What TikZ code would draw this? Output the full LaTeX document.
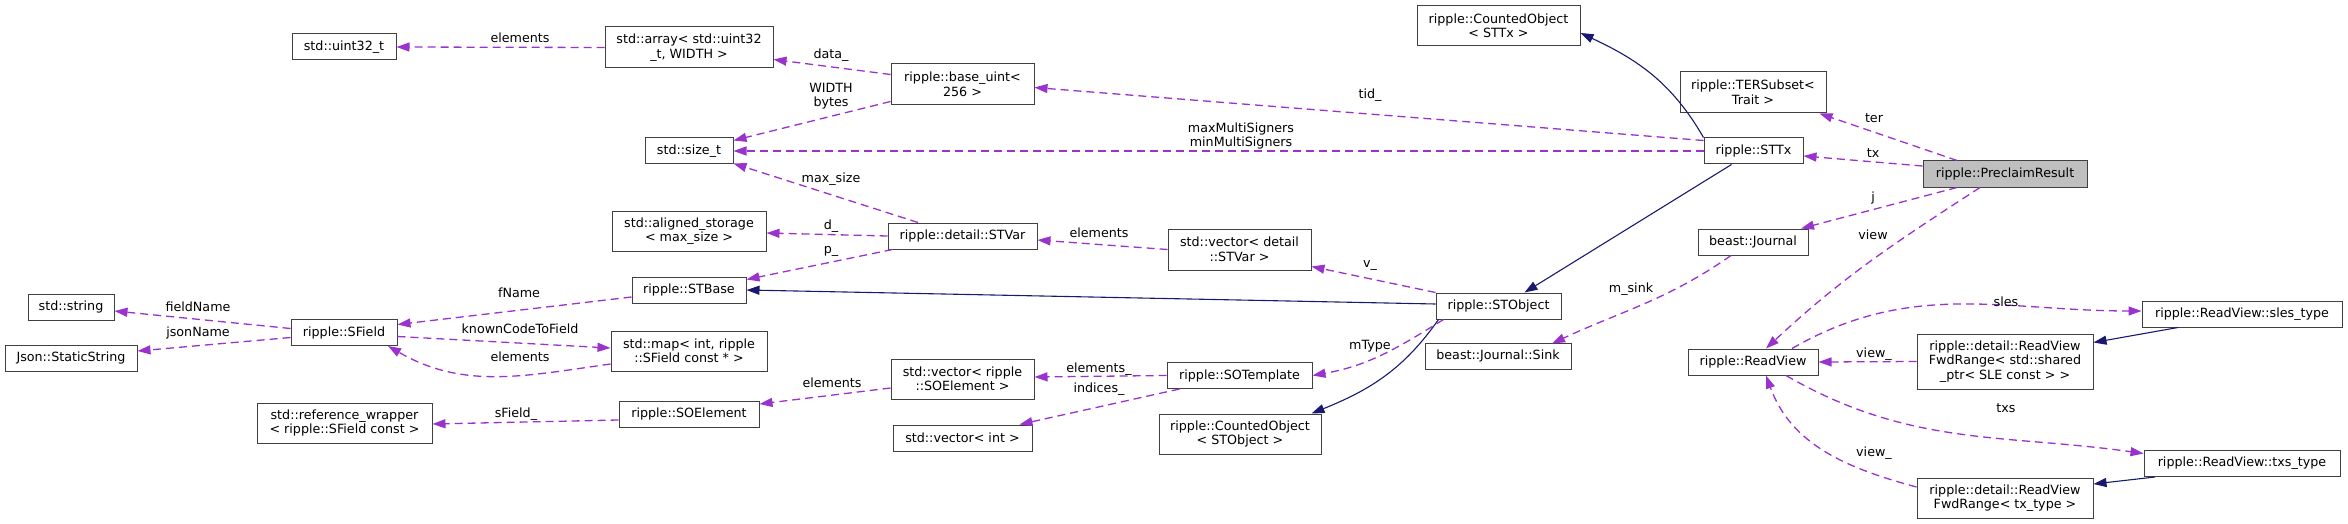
\documentclass[tikz,border=0pt]{standalone}
\usepackage{fontspec}
\setmainfont{DejaVu Sans}
\usepackage{tikz}
\usetikzlibrary{arrows.meta}
\definecolor{memberpurple}{HTML}{9A32CD}
\definecolor{basenavy}{HTML}{191970}
\definecolor{boxborder}{HTML}{404040}
\definecolor{focusgray}{HTML}{BFBFBF}
\tikzset{
  classbox/.style={draw=boxborder,fill=white,line width=1pt,inner sep=0pt,align=center,
    minimum height=26pt,font=\fontsize{12.7}{14.5}\selectfont},
  focusbox/.style={classbox,fill=focusgray},
  memberedge/.style={-{Triangle[length=13pt,width=9pt]},draw=memberpurple,
    line width=1.3pt,dash pattern=on 8pt off 5pt},
  baseedge/.style={-{Triangle[length=13pt,width=9pt]},draw=basenavy,line width=1.1pt},
  edgelabel/.style={font=\fontsize{12.7}{14.5}\selectfont,align=center,inner sep=0pt}
}
\begin{document}
\begin{tikzpicture}[x=1pt,y=1pt]
  \useasboundingbox (0,0) rectangle (2348,-524);
  % classes
  \node[classbox,minimum width=104pt] (uint) at (344,-47) {std::uint32\_t};
  \node[classbox,minimum width=168pt,minimum height=41pt] (array) at (689,-47.5) {std::array< std::uint32\\\_t, WIDTH >};
  \node[classbox,minimum width=88pt] (sizet) at (689,-151) {std::size\_t};
  \node[classbox,minimum width=154pt,minimum height=40pt] (aligned) at (689,-231) {std::aligned\_storage\\< max\_size >};
  \node[classbox,minimum width=114pt] (stbase) at (689,-290) {ripple::STBase};
  \node[classbox,minimum width=86pt] (string) at (71,-307) {std::string};
  \node[classbox,minimum width=106pt] (sfield) at (344,-332.5) {ripple::SField};
  \node[classbox,minimum width=132pt] (staticstr) at (71,-358) {Json::StaticString};
  \node[classbox,minimum width=156pt,minimum height=40pt] (map) at (689,-351) {std::map< int, ripple\\::SField const * >};
  \node[classbox,minimum width=140pt] (soelement) at (689,-414) {ripple::SOElement};
  \node[classbox,minimum width=175pt,minimum height=40pt] (refwrap) at (344.5,-423) {std::reference\_wrapper\\< ripple::SField const >};
  \node[classbox,minimum width=143pt,minimum height=41pt] (baseuint) at (962.5,-84.5) {ripple::base\_uint<\\256 >};
  \node[classbox,minimum width=149pt] (stvar) at (962.5,-236) {ripple::detail::STVar};
  \node[classbox,minimum width=143pt,minimum height=40pt] (vecsoe) at (962.5,-379) {std::vector< ripple\\::SOElement >};
  \node[classbox,minimum width=139pt] (vecint) at (962.5,-438) {std::vector< int >};
  \node[classbox,minimum width=143pt,minimum height=41pt] (vecstvar) at (1239.5,-249.5) {std::vector< detail\\::STVar >};
  \node[classbox,minimum width=145pt] (sotemplate) at (1239.5,-375.5) {ripple::SOTemplate};
  \node[classbox,minimum width=162pt,minimum height=40pt] (countedsto) at (1240,-434) {ripple::CountedObject\\< STObject >};
  \node[classbox,minimum width=163pt,minimum height=40pt] (countedstt) at (1498.5,-26) {ripple::CountedObject\\< STTx >};
  \node[classbox,minimum width=125pt] (stobject) at (1498.5,-306) {ripple::STObject};
  \node[classbox,minimum width=146pt] (sink) at (1498,-356) {beast::Journal::Sink};
  \node[classbox,minimum width=146pt,minimum height=41pt] (tersubset) at (1753,-92.5) {ripple::TERSubset<\\Trait >};
  \node[classbox,minimum width=99pt] (sttx) at (1753.5,-151) {ripple::STTx};
  \node[classbox,minimum width=110pt] (journal) at (1753,-242) {beast::Journal};
  \node[classbox,minimum width=130pt] (readview) at (1753,-362) {ripple::ReadView};
  \node[focusbox,minimum width=164pt] (preclaim) at (2005,-174) {ripple::PreclaimResult};
  \node[classbox,minimum width=176pt,minimum height=55pt] (fwdshared) at (2005,-361.5) {ripple::detail::ReadView\\FwdRange< std::shared\\\_ptr< SLE const > >};
  \node[classbox,minimum width=176pt,minimum height=40pt] (fwdtx) at (2005,-498) {ripple::detail::ReadView\\FwdRange< tx\_type >};
  \node[classbox,minimum width=200pt] (slestype) at (2242,-314) {ripple::ReadView::sles\_type};
  \node[classbox,minimum width=196pt] (txstype) at (2242,-463.5) {ripple::ReadView::txs\_type};
  % inheritance
  \draw[baseedge] (sttx.north west) to[out=120,in=-25] ([yshift=-7pt]countedstt.east);
  \draw[baseedge] ([xshift=-22pt]sttx.south) -- ([xshift=26pt]stobject.north);
  \draw[baseedge] ([yshift=2pt]stobject.west) -- (stbase.east);
  \draw[baseedge] ([xshift=-60pt]stobject.south) to[out=235,in=22] ([xshift=-10pt]countedsto.north east);
  \draw[baseedge] ([xshift=-64pt]slestype.south) -- ([yshift=19pt]fwdshared.east);
  \draw[baseedge] ([xshift=-87pt]txstype.south) -- ([yshift=14pt]fwdtx.east);
  % members
  \draw[memberedge] (array.west) -- (uint.east);
  \draw[memberedge] ([yshift=10pt]baseuint.west) -- ([yshift=-12pt]array.east);
  \draw[memberedge] ([yshift=-17pt]baseuint.west) -- ([yshift=-3pt]sizet.north east);
  \draw[memberedge] ([yshift=-3pt]sttx.north west) -- ([yshift=-3pt]baseuint.east);
  \draw[memberedge] (sttx.west) -- (sizet.east);
  \draw[memberedge] ([xshift=-44.5pt]stvar.north) -- ([yshift=1pt]sizet.south east);
  \draw[memberedge] (stvar.west) -- ([yshift=-2pt]aligned.east);
  \draw[memberedge] ([xshift=-70pt]stvar.south) -- ([yshift=-3pt]stbase.north east);
  \draw[memberedge] (vecstvar.west) -- ([yshift=-4pt]stvar.east);
  \draw[memberedge] (stobject.north west) -- ([yshift=4pt]vecstvar.south east);
  \draw[memberedge] ([yshift=-7pt]stbase.west) -- ([yshift=8pt]sfield.east);
  \draw[memberedge] ([yshift=4pt]sfield.west) -- ([yshift=-4pt]string.east);
  \draw[memberedge] ([yshift=-5pt]sfield.west) -- ([yshift=7pt]staticstr.east);
  \draw[memberedge] ([yshift=-4pt]sfield.east) -- ([yshift=3pt]map.west);
  \draw[memberedge] ([yshift=-13pt]map.west) to[out=188,in=-30] ([xshift=44pt]sfield.south);
  \draw[memberedge] ([yshift=-6pt]soelement.west) -- ([yshift=-1pt]refwrap.east);
  \draw[memberedge] ([yshift=-9pt]vecsoe.west) -- ([yshift=10pt]soelement.east);
  \draw[memberedge] (sotemplate.west) -- ([yshift=2pt]vecsoe.east);
  \draw[memberedge] ([xshift=-60pt]sotemplate.south) -- ([xshift=57pt]vecint.north);
  \draw[memberedge] ([xshift=-55pt]stobject.south) to[out=212,in=10] (sotemplate.east);
  \draw[memberedge] ([xshift=-48pt]preclaim.north) -- ([xshift=-7pt]tersubset.south east);
  \draw[memberedge] ([yshift=8pt]preclaim.west) -- ([yshift=-5pt]sttx.east);
  \draw[memberedge] ([xshift=-48pt]preclaim.south) -- ([xshift=48pt]journal.north);
  \draw[memberedge] ([xshift=-25pt]preclaim.south) to[out=213,in=43] ([xshift=13pt]readview.north);
  \draw[memberedge] ([xshift=-22pt]journal.south) to[out=215,in=25] ([xshift=54pt,yshift=-1pt]sink.north);
  \draw[memberedge] ([xshift=39pt]readview.north) to[out=30,in=180] ([yshift=3pt]slestype.west);
  \draw[memberedge] (fwdshared.west) -- (readview.east);
  \draw[memberedge] ([xshift=33pt]readview.south) to[out=-30,in=172] ([yshift=10pt]txstype.west);
  \draw[memberedge] ([yshift=11pt]fwdtx.west) to[out=165,in=-70] ([xshift=13pt]readview.south);
  % edge labels
  \node[edgelabel] (lbluint) at (520,-38) {elements};
  \node[edgelabel] (lbldata) at (831,-55) {data\_};
  \node[edgelabel] (lblwidth) at (831,-96) {WIDTH\\bytes};
  \node[edgelabel] (lbltid) at (1370,-95) {tid\_};
  \node[edgelabel] (lblsigners) at (1241,-136) {maxMultiSigners\\minMultiSigners};
  \node[edgelabel] (lblmaxsize) at (831,-179) {max\_size};
  \node[edgelabel] (lbld) at (831,-226) {d\_};
  \node[edgelabel] (lblp) at (831,-251) {p\_};
  \node[edgelabel] (lblstvar) at (1099,-233) {elements};
  \node[edgelabel] (lblv) at (1370,-266) {v\_};
  \node[edgelabel] (lblfname) at (519,-293) {fName};
  \node[edgelabel] (lblfieldname) at (198,-307) {fieldName};
  \node[edgelabel] (lbljsonname) at (198,-333) {jsonName};
  \node[edgelabel] (lblknown) at (520,-329) {knownCodeToField};
  \node[edgelabel] (lblmap) at (520,-357) {elements};
  \node[edgelabel] (lblsfield) at (516,-414) {sField\_};
  \node[edgelabel] (lblsoe) at (832,-383) {elements};
  \node[edgelabel] (lblelements) at (1099,-369) {elements\_};
  \node[edgelabel] (lblindices) at (1099,-389) {indices\_};
  \node[edgelabel] (lblmtype) at (1370,-346) {mType};
  \node[edgelabel] (lblter) at (1874,-118) {ter};
  \node[edgelabel] (lbltx) at (1873,-153) {tx};
  \node[edgelabel] (lblj) at (1873,-198) {j};
  \node[edgelabel] (lblview) at (1873,-235) {view};
  \node[edgelabel] (lblsink) at (1631,-289) {m\_sink};
  \node[edgelabel] (lblsles) at (2006,-302) {sles};
  \node[edgelabel] (lblviewshared) at (1874,-354) {view\_};
  \node[edgelabel] (lbltxs) at (2006,-408) {txs};
  \node[edgelabel] (lblviewtx) at (1874,-453) {view\_};
\end{tikzpicture}
\end{document}
